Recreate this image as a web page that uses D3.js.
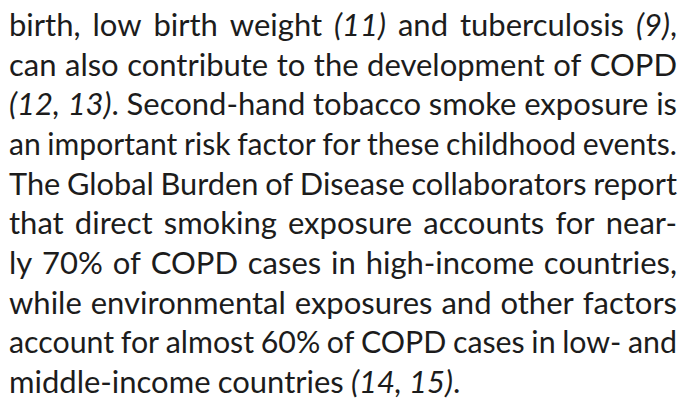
<!DOCTYPE html>
<html>
<head>
<meta charset="utf-8">
<script src="https://cdn.jsdelivr.net/npm/d3@7"></script>
<style>
  html, body { margin: 0; padding: 0; background: #fff; }
  svg { display: block; }
</style>
</head>
<body>
<script>
// paragraph lines, *...* marks italic reference numbers
var lines = [
  "birth, low birth weight *(11)* and tuberculosis *(9)*,",
  "can also contribute to the development of COPD",
  "*(12, 13)*. Second-hand tobacco smoke exposure is",
  "an important risk factor for these childhood events.",
  "The Global Burden of Disease collaborators report",
  "that direct smoking exposure accounts for near-",
  "ly 70% of COPD cases in high-income countries,",
  "while environmental exposures and other factors",
  "account for almost 60% of COPD cases in low- and",
  "middle-income countries *(14, 15)*."
];
// last line is left aligned, the rest justified
var justified = [true, true, true, true, true, true, true, true, true, false];

var width = 680,
    height = 400;

var font_size = 31;
var text_color = "#1c1c1c";

var y = d3.scaleLinear().domain([0, lines.length - 1]).range([35.8, 393.1]);
var x = d3.scaleLinear().domain([0, 1]).range([9, 677]);

var svg = d3.select("body").append("svg")
    .attr("width", width)
    .attr("height", height);

// split a line into words, each word into segments {t, italic}
var italic_state = false;
function parse_line(s){
  return s.split(" ").map(function(w){
    var parts = w.split("*");
    var segs = [];
    parts.forEach(function(p, k){
      if (k > 0) italic_state = !italic_state;
      if (p.length) segs.push({t: p, italic: italic_state});
    });
    return segs;
  });
}

var parsed = lines.map(parse_line);

var rows = svg.selectAll("g.line")
  .data(parsed)
  .enter().append("g")
    .attr("class", "line");

rows.each(function(words, i){
  var g = d3.select(this);
  var texts = g.selectAll("text")
    .data(words)
    .enter().append("text")
      .attr("font-family", "Lato, 'Open Sans', sans-serif")
      .attr("font-size", font_size)
      .attr("fill", text_color);

  texts.selectAll("tspan")
    .data(function(d){ return d; })
    .enter().append("tspan")
      .attr("font-style", function(d){ return d.italic ? "italic" : "normal"; })
      .text(function(d){ return d.t; });

  var widths = [];
  texts.each(function(){ widths.push(this.getComputedTextLength()); });
  var total = d3.sum(widths);
  var avail = x(1) - x(0);
  var space = font_size * 0.23;
  var gap = space;
  var scale = 1;
  if (justified[i] && words.length > 1){
    gap = (avail - total) / (words.length - 1);
    if (gap < space * 0.95){
      // too wide for the line, squeeze it a bit
      gap = space * 0.95;
      scale = avail / (total + gap * (words.length - 1));
    }
  }
  var pos = 0;
  texts.attr("x", function(d, k){
    var p = pos;
    pos += widths[k] + gap;
    return p;
  });
  g.attr("transform", "translate(" + x(0) + "," + y(i) + ") scale(" + scale + ",1)");
});
</script>
</body>
</html>
